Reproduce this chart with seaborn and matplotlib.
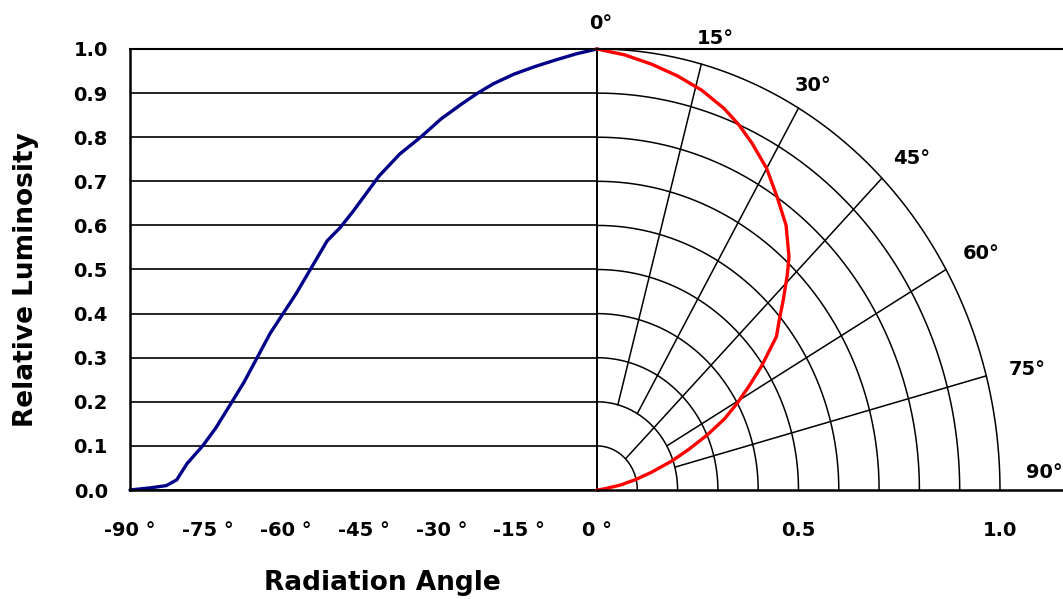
import numpy as np
import pandas as pd
import matplotlib
matplotlib.use("Agg")
import matplotlib.pyplot as plt
import seaborn as sns

# ---- data ----
angles = [-90, -86, -83, -81, -79, -76, -73.5, -70.5, -68, -65.5, -63, -60.5, -58, -55.5,
          -52, -49.5, -47, -44, -42, -38, -34, -30, -26, -23, -20, -16, -12, -8, -4, 0]
luminosity = [0.0, 0.005, 0.01, 0.023, 0.06, 0.10, 0.14, 0.197, 0.245, 0.30, 0.355, 0.40,
              0.445, 0.495, 0.565, 0.595, 0.632, 0.68, 0.712, 0.762, 0.80, 0.842, 0.876,
              0.90, 0.921, 0.943, 0.960, 0.975, 0.989, 1.0]
angle_ticks = [-90, -75, -60, -45, -30, -15, 0]
angle_tick_labels = ["-90 °", "-75 °", "-60 °", "-45 °", "-30 °", "-15 °", "0 °"]
lum_ticks = [0.0, 0.1, 0.2, 0.3, 0.4, 0.5, 0.6, 0.7, 0.8, 0.9, 1.0]
radius_ticks = [0.5, 1.0]
radius_tick_labels = ["0.5", "1.0"]
polar_rings = [0.1, 0.2, 0.3, 0.4, 0.5, 0.6, 0.7, 0.8, 0.9, 1.0]
polar_spokes = [15, 30, 45, 60, 75]
spoke_start = [0.2, 0.2, 0.1, 0.2, 0.2]
polar_labels = [0, 15, 30, 45, 60, 75, 90]
# label offsets (pixels) from the outer ring, styling only
label_offsets = [(4, 25), (14, 26), (15, 23), (30, 20), (35, 16), (41, 6), (44, 17)]

sns.set_theme(style="white")
plt.rcParams["font.family"] = ["DejaVu Sans"]
plt.rcParams["font.weight"] = "bold"
plt.rcParams["text.color"] = "black"
plt.rcParams["axes.labelcolor"] = "black"

W, H = 1063, 599
fig = plt.figure(figsize=(W / 100, H / 100), dpi=100)
fig.patch.set_facecolor("white")

x0, xc, ytop, ybot = 130, 597, 49, 490
ax1 = fig.add_axes([x0 / W, (H - ybot) / H, (xc - x0) / W, (ybot - ytop) / H])
ax2 = fig.add_axes([xc / W, (H - ybot) / H, (W - xc) / W, (ybot - ytop) / H])
for a in (ax1, ax2):
    a.set_facecolor("none")
    a.set_ylim(0, 1)

# ---- left: Cartesian ----
ax1.set_xlim(-90, 0)
ax1.set_yticks(lum_ticks)
ax1.set_yticklabels([f"{v:.1f}" for v in lum_ticks], fontsize=14, fontweight="bold")
ax1.set_xticks(angle_ticks)
ax1.set_xticklabels(angle_tick_labels, fontsize=14, fontweight="bold")
ax1.tick_params(axis="y", length=0, pad=16, colors="black")
ax1.tick_params(axis="x", length=0, pad=22, colors="black")
ax1.grid(axis="y", color="black", lw=1.2)
ax1.grid(axis="x", visible=False)
for s in ["left", "top", "bottom", "right"]:
    ax1.spines[s].set_visible(True)
    ax1.spines[s].set_color("black")
ax1.spines["left"].set_linewidth(1.8)
ax1.spines["top"].set_linewidth(1.5)
ax1.spines["bottom"].set_linewidth(1.8)
ax1.spines["right"].set_linewidth(1.4)

df = pd.DataFrame({"angle": angles, "lum": luminosity})
sns.lineplot(data=df, x="angle", y="lum", ax=ax1, color="#000088", lw=2.4,
             sort=False, estimator=None, clip_on=False)
ax1.set_xlabel("Radiation Angle", fontsize=19, fontweight="bold", color="black")
ax1.xaxis.set_label_coords((382 - x0) / (xc - x0), (ybot - 583) / (ybot - ytop))
ax1.xaxis.label.set_va("center")
ax1.set_ylabel("Relative Luminosity", fontsize=19, fontweight="bold", color="black")
ax1.yaxis.set_label_coords((26 - x0) / (xc - x0), (ybot - 280) / (ybot - ytop))
ax1.yaxis.label.set_va("center")

# ---- right: polar quarter ----
ax2.set_xlim(0, (W - xc) / 403)
ax2.set_yticks([])
ax2.set_xticks(radius_ticks)
ax2.set_xticklabels(radius_tick_labels, fontsize=14, fontweight="bold")
ax2.tick_params(axis="x", length=0, pad=22, colors="black")
ax2.grid(False)
for s in ["left", "right"]:
    ax2.spines[s].set_visible(False)
ax2.spines["top"].set_linewidth(1.5)
ax2.spines["bottom"].set_linewidth(1.8)
ax2.spines["top"].set_color("black")
ax2.spines["bottom"].set_color("black")

th = np.linspace(0, np.pi / 2, 200)
for r in polar_rings:
    ax2.plot(r * np.sin(th), r * np.cos(th), color="black", lw=1.1, clip_on=False)
for ang, r0 in zip(polar_spokes, spoke_start):
    t = np.deg2rad(ang)
    ax2.plot([r0 * np.sin(t), np.sin(t)], [r0 * np.cos(t), np.cos(t)], color="black", lw=1.1)

theta = np.deg2rad(np.abs(df["angle"].to_numpy()))
pdf = pd.DataFrame({"px": df["lum"] * np.sin(theta), "py": df["lum"] * np.cos(theta)})
sns.lineplot(data=pdf, x="px", y="py", ax=ax2, color="#ff0000", lw=2.4,
             sort=False, estimator=None, clip_on=False)
ax2.set_xlabel("")
ax2.set_ylabel("")

for ang, (dx, dy) in zip(polar_labels, label_offsets):
    t = np.deg2rad(ang)
    ax2.annotate(f"{ang}°", xy=(np.sin(t), np.cos(t)), xytext=(dx, dy),
                 textcoords="offset pixels", ha="center", va="center", color="black",
                 fontsize=14, fontweight="bold", annotation_clip=False)

fig.savefig("out.png", dpi=100, facecolor="white")
